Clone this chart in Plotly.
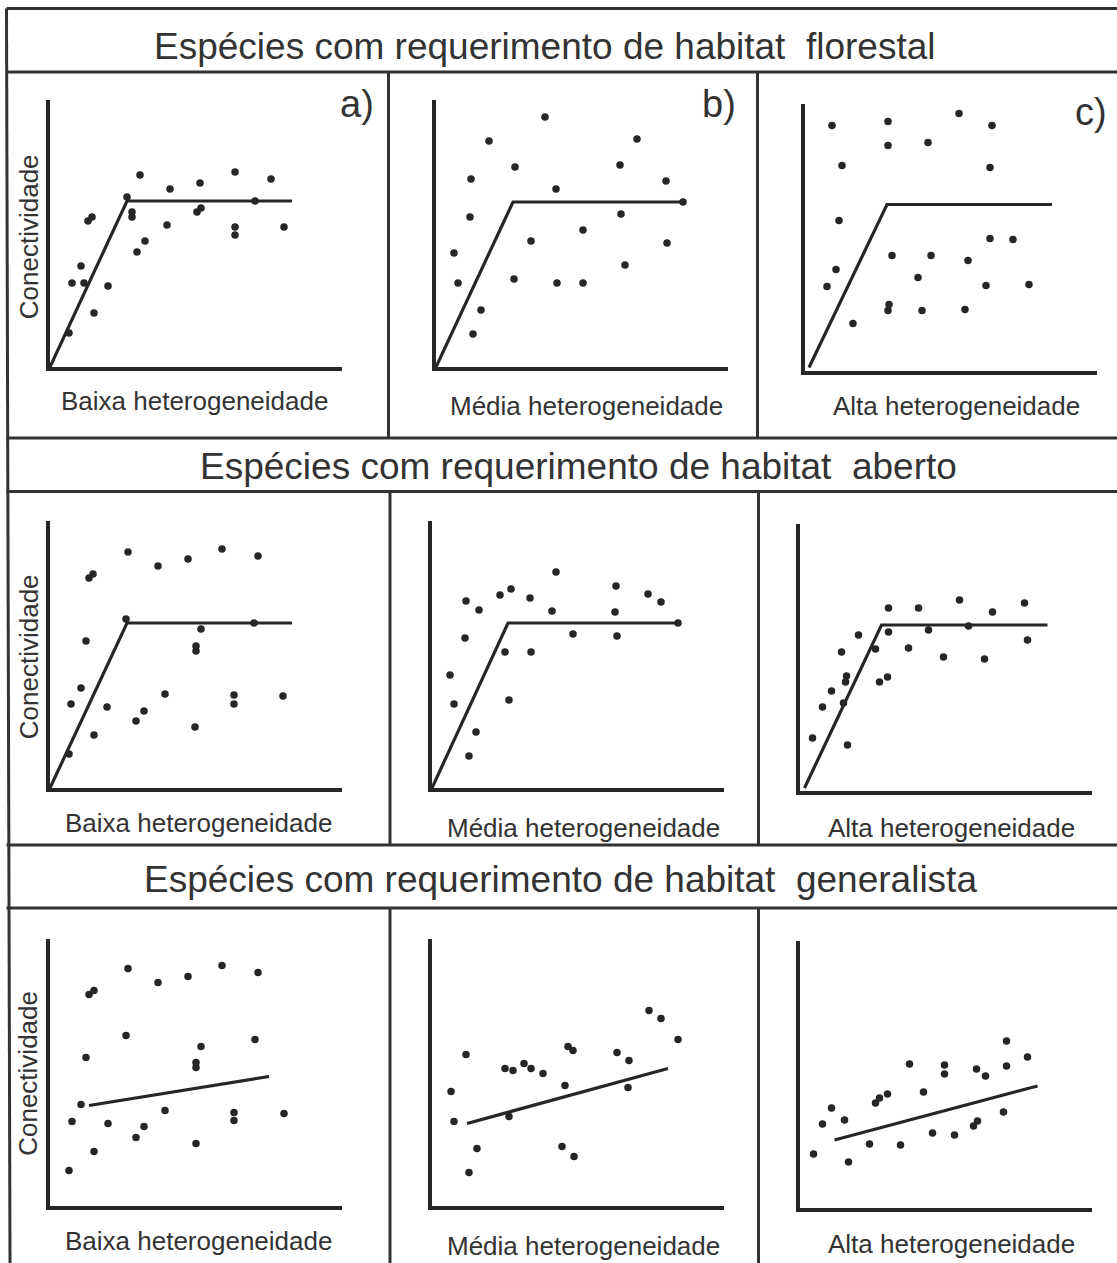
import plotly.graph_objects as go

W, H = 1117, 1263
INK = "#262626"
TEXT = "#333333"
FONT = "Liberation Sans, Arial, sans-serif"

# ---------------- data (heterogeneity on x, connectivity on y; arbitrary units) ----------------
# Row 1: forest-habitat species
a_x = [19, 22, 31, 34, 44, 38, 42, 58, 77, 82, 82, 90, 87, 95, 117, 120, 147, 151, 150, 185, 185, 185, 205, 221, 234]
a_y = [34, 84, 101, 84, 54, 146, 150, 81, 170, 155, 150, 192, 115, 126, 142, 178, 155, 159, 184, 195, 140, 132, 166, 188, 140]
a_fit_x = [0, 77, 242]
a_fit_y = [0, 166, 166]

b_x = [109, 53, 201, 35, 79, 184, 230, 120, 247, 34, 185, 147, 95, 231, 18, 189, 22, 78, 121, 147, 45, 37]
b_y = [250, 226, 228, 188, 200, 202, 186, 178, 165, 150, 153, 137, 126, 124, 114, 102, 84, 88, 84, 84, 57, 33]
b_fit_x = [0, 77, 247]
b_fit_y = [0, 165, 165]

c_x = [27, 83, 154, 187, 83, 123, 37, 185, 34, 185, 208, 87, 126, 163, 31, 113, 22, 181, 224, 84, 83, 117, 160, 48]
c_y = [245, 249, 257, 245, 225, 228, 205, 203, 150, 132, 131, 115, 115, 110, 101, 93, 84, 85, 86, 66, 60, 60, 61, 47]
c_fit_x = [4, 82, 247]
c_fit_y = [3, 166, 166]

# Row 2: open-habitat species
d_x = [78, 39, 43, 108, 138, 172, 208, 76, 204, 151, 146, 146, 36, 31, 21, 57, 115, 94, 86, 184, 184, 233, 145, 44, 19]
d_y = [236, 210, 214, 222, 229, 239, 232, 169, 165, 159, 142, 137, 147, 100, 84, 81, 94, 77, 67, 93, 84, 92, 61, 53, 34]
d_fit_x = [0, 77, 242]
d_fit_y = [0, 165, 165]

e_x = [124, 184, 79, 68, 98, 34, 47, 120, 183, 216, 229, 246, 141, 185, 33, 73, 99, 18, 22, 77, 44, 37]
e_y = [216, 202, 199, 193, 190, 187, 178, 177, 176, 194, 186, 165, 154, 152, 150, 136, 136, 113, 84, 88, 56, 32]
e_fit_x = [0, 76, 246]
e_fit_y = [0, 165, 165]

f_x = [89, 119, 160, 193, 225, 89, 129, 169, 228, 59, 76, 109, 144, 185, 42, 47, 46, 80, 88, 32, 23, 44, 13, 48]
f_y = [183, 183, 191, 179, 188, 159, 161, 165, 151, 156, 142, 143, 134, 132, 139, 115, 109, 109, 114, 100, 84, 88, 53, 46]
f_fit_x = [5, 82, 248]
f_fit_y = [3, 166, 166]

# Row 3: generalist species
g_x = [78, 39, 44, 108, 138, 172, 208, 76, 205, 151, 146, 146, 36, 31, 22, 58, 115, 94, 86, 184, 184, 234, 146, 44, 19]
g_y = [237, 211, 215, 223, 229, 240, 233, 170, 166, 159, 143, 138, 148, 101, 84, 82, 95, 79, 68, 93, 85, 92, 62, 54, 35]
g_fit_x = [39, 219]
g_fit_y = [100, 129]

h_x = [217, 229, 246, 34, 136, 141, 185, 197, 73, 81, 92, 99, 111, 133, 196, 19, 22, 77, 45, 130, 142, 37]
h_y = [195, 187, 166, 151, 159, 155, 153, 145, 137, 135, 142, 137, 132, 120, 118, 114, 84, 89, 57, 59, 49, 33]
h_fit_x = [35, 236]
h_fit_y = [82, 137]

i_x = [207, 228, 207, 110, 145, 145, 177, 186, 124, 88, 80, 76, 32, 23, 45, 204, 178, 174, 133, 155, 70, 101, 14, 49]
i_y = [167, 151, 142, 144, 143, 134, 139, 132, 116, 114, 110, 105, 100, 84, 88, 96, 87, 82, 75, 73, 64, 63, 54, 46]
i_fit_x = [35, 238]
i_fit_y = [68, 122]

row_titles = [
    "Espécies com requerimento de habitat\u00a0 florestal",
    "Espécies com requerimento de habitat\u00a0 aberto",
    "Espécies com requerimento de habitat\u00a0 generalista",
]
col_titles = ["Baixa heterogeneidade", "Média heterogeneidade", "Alta heterogeneidade"]
y_title = "Conectividade"
panel_tags = ["a)", "b)", "c)"]

X_RANGE = [0, 292]
Y_RANGE = [0, 267]

# ---------------- layout geometry (pixels) ----------------
# each panel: left, top, right, bottom of its axes frame
panels = [
    (a_x, a_y, a_fit_x, a_fit_y, (50, 100, 342, 367)),
    (b_x, b_y, b_fit_x, b_fit_y, (436, 100, 728, 367)),
    (c_x, c_y, c_fit_x, c_fit_y, (805, 103.5, 1097, 370.5)),
    (d_x, d_y, d_fit_x, d_fit_y, (50, 521, 342, 788)),
    (e_x, e_y, e_fit_x, e_fit_y, (432, 521, 724, 788)),
    (f_x, f_y, f_fit_x, f_fit_y, (799.5, 524, 1091.5, 791)),
    (g_x, g_y, g_fit_x, g_fit_y, (50, 938.5, 342, 1205.5)),
    (h_x, h_y, h_fit_x, h_fit_y, (432, 938.5, 724, 1205.5)),
    (i_x, i_y, i_fit_x, i_fit_y, (799.5, 941, 1091.5, 1208)),
]


def px(x):
    return x / W


def py(y):
    return 1 - y / H


fig = go.Figure()
layout_axes = {}

for k, (xs, ys, fx, fy, (l, t, r, b)) in enumerate(panels, start=1):
    xa = "x" if k == 1 else f"x{k}"
    ya = "y" if k == 1 else f"y{k}"
    fig.add_trace(go.Scatter(
        x=fx, y=fy, xaxis=xa, yaxis=ya, mode="lines",
        line=dict(color=INK, width=3.2), hoverinfo="skip", showlegend=False,
    ))
    fig.add_trace(go.Scatter(
        x=xs, y=ys, xaxis=xa, yaxis=ya, mode="markers",
        marker=dict(color=INK, size=7.5, line=dict(width=0)),
        showlegend=False,
    ))
    common = dict(showline=True, linewidth=3.5, linecolor=INK, showgrid=False,
                  zeroline=False, showticklabels=False, ticks="", fixedrange=True)
    layout_axes["xaxis" if k == 1 else f"xaxis{k}"] = dict(
        domain=[px(l), px(r)], range=X_RANGE, anchor=ya, **common)
    layout_axes["yaxis" if k == 1 else f"yaxis{k}"] = dict(
        domain=[py(b), py(t)], range=Y_RANGE, anchor=xa, **common)

fig.update_layout(**layout_axes)

# ---------------- frame lines ----------------
BORDER = dict(color="#333333", width=3)
shapes = []


def hline(y, x0=6.5, x1=W):
    shapes.append(dict(type="line", xref="paper", yref="paper",
                       x0=px(x0), x1=px(x1), y0=py(y), y1=py(y), line=BORDER))


def seg(x0, y0, x1, y1):
    shapes.append(dict(type="line", xref="paper", yref="paper",
                       x0=px(x0), x1=px(x1), y0=py(y0), y1=py(y1), line=BORDER))


for yy in [8.5, 72, 438, 491.5, 845, 908]:
    hline(yy)
seg(6.5, 8.5, 10, H)  # outer left edge
for (y0, y1, c1, c2) in [(72, 438, 388.5, 757.5), (491.5, 845, 390, 758.5), (908, H, 390, 758.5)]:
    seg(c1, y0, c1, y1)
    seg(c2, y0, c2, y1)

# ---------------- texts ----------------
ann = []


def text(s, x, y, size, angle=0):
    ann.append(dict(text=s, x=px(x), y=py(y), xref="paper", yref="paper",
                    xanchor="center", yanchor="middle", showarrow=False,
                    textangle=angle, font=dict(family=FONT, size=size, color=TEXT)))


for s, (x, y) in zip(row_titles, [(545, 46), (578, 466.5), (560, 879)]):
    text(s, x, y, 37)

label_pos = [
    [(195, 401), (586.7, 406), (956, 406)],
    [(198, 822.7), (583, 827.7), (951, 827.7)],
    [(198, 1241), (583, 1246), (951, 1244.3)],
]
for row in label_pos:
    for s, (x, y) in zip(col_titles, row):
        text(s, x, y, 26)

for y in [236.7, 656.7, 1073.3]:
    text(y_title, 28.5, y, 26, angle=-90)

for s, (x, y) in zip(panel_tags, [(356.5, 104), (719, 104), (1091, 112.5)]):
    text(s, x, y, 38)

fig.update_layout(
    width=W, height=H, margin=dict(l=0, r=0, t=0, b=0),
    paper_bgcolor="white", plot_bgcolor="rgba(0,0,0,0)",
    shapes=shapes, annotations=ann, showlegend=False,
)

fig.write_html("out.html")
